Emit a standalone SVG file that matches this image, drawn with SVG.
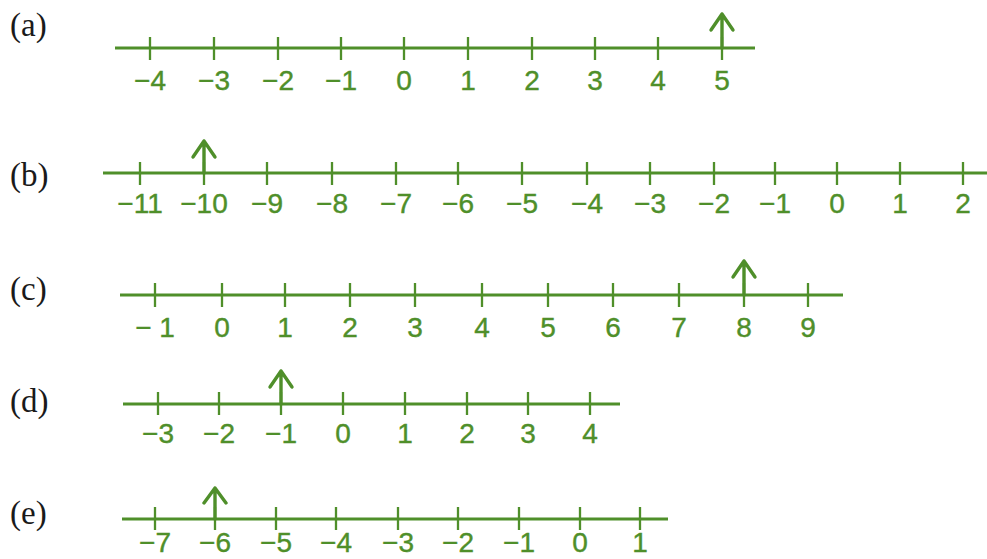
<svg xmlns="http://www.w3.org/2000/svg" width="987" height="559" viewBox="0 0 987 559">
<style>
.bg{fill:#ffffff}
.lbl{font-family:"Liberation Serif","Times New Roman",serif;font-size:33px;fill:#1a1a1a}
.num{font-family:"Liberation Sans",Arial,sans-serif;font-size:28px;fill:#4f8f2a;stroke:#4f8f2a;stroke-width:0.4;text-anchor:middle}
.axis{stroke:#4f8f2a;stroke-width:2.8;fill:none}
.tick{stroke:#4f8f2a;stroke-width:2.3;fill:none}
.arr{stroke:#4f8f2a;stroke-width:3.4;fill:none;stroke-linecap:round;stroke-linejoin:round}
</style>
<rect class="bg" x="0" y="0" width="987" height="559"/>

<g id="line-a">
<text class="lbl" x="10" y="36">(a)</text>
<line class="axis" x1="115" y1="48" x2="755" y2="48"/>
<path class="tick" d="M150,37V60M214,37V60M278,37V60M341,37V60M404,37V60M468,37V60M532,37V60M595,37V60M658,37V60M722,37V60"/>
<path class="arr" d="M722,48V14M711,30L722,14L733,30"/>
<g class="num">
<text x="150" y="90">−4</text><text x="214" y="90">−3</text><text x="278" y="90">−2</text><text x="341" y="90">−1</text><text x="404" y="90">0</text><text x="468" y="90">1</text><text x="532" y="90">2</text><text x="595" y="90">3</text><text x="658" y="90">4</text><text x="722" y="90">5</text>
</g>
</g>

<g id="line-b">
<text class="lbl" x="10" y="186">(b)</text>
<line class="axis" x1="103" y1="173" x2="987" y2="173"/>
<path class="tick" d="M140,162V185M204,162V185M267,162V185M332,162V185M396,162V185M458,162V185M522,162V185M587,162V185M650,162V185M714,162V185M775,162V185M837,162V185M900,162V185M963,162V185"/>
<path class="arr" d="M204,173V141M193,157L204,141L215,157"/>
<g class="num">
<text x="140" y="213">−11</text><text x="204" y="213">−10</text><text x="267" y="213">−9</text><text x="332" y="213">−8</text><text x="396" y="213">−7</text><text x="458" y="213">−6</text><text x="522" y="213">−5</text><text x="587" y="213">−4</text><text x="650" y="213">−3</text><text x="714" y="213">−2</text><text x="775" y="213">−1</text><text x="837" y="213">0</text><text x="900" y="213">1</text><text x="963" y="213">2</text>
</g>
</g>

<g id="line-c">
<text class="lbl" x="10" y="300">(c)</text>
<line class="axis" x1="120" y1="295" x2="843" y2="295"/>
<path class="tick" d="M155,283V307M222,283V307M285,283V307M350,283V307M415,283V307M482,283V307M548,283V307M613,283V307M679,283V307M744,283V307M808,283V307"/>
<path class="arr" d="M744,295V261M733,277L744,261L755,277"/>
<g class="num">
<text x="155" y="337">− 1</text><text x="222" y="337">0</text><text x="285" y="337">1</text><text x="350" y="337">2</text><text x="415" y="337">3</text><text x="482" y="337">4</text><text x="548" y="337">5</text><text x="613" y="337">6</text><text x="679" y="337">7</text><text x="744" y="337">8</text><text x="808" y="337">9</text>
</g>
</g>

<g id="line-d">
<text class="lbl" x="10" y="412">(d)</text>
<line class="axis" x1="123" y1="404" x2="620" y2="404"/>
<path class="tick" d="M158,392V415M219,392V415M281,392V415M343,392V415M405,392V415M467,392V415M528,392V415M590,392V415"/>
<path class="arr" d="M281,404V371M270,387L281,371L292,387"/>
<g class="num">
<text x="158" y="443">−3</text><text x="219" y="443">−2</text><text x="281" y="443">−1</text><text x="343" y="443">0</text><text x="405" y="443">1</text><text x="467" y="443">2</text><text x="528" y="443">3</text><text x="590" y="443">4</text>
</g>
</g>

<g id="line-e">
<text class="lbl" x="10" y="524">(e)</text>
<line class="axis" x1="122" y1="519" x2="668" y2="519"/>
<path class="tick" d="M155,507V530M215,507V530M276,507V530M336,507V530M398,507V530M458,507V530M519,507V530M580,507V530M640,507V530"/>
<path class="arr" d="M215,519V488M204,503L215,488L226,503"/>
<g class="num">
<text x="155" y="552">−7</text><text x="215" y="552">−6</text><text x="276" y="552">−5</text><text x="336" y="552">−4</text><text x="398" y="552">−3</text><text x="458" y="552">−2</text><text x="519" y="552">−1</text><text x="580" y="552">0</text><text x="640" y="552">1</text>
</g>
</g>

<g id="connectors"></g>
</svg>
